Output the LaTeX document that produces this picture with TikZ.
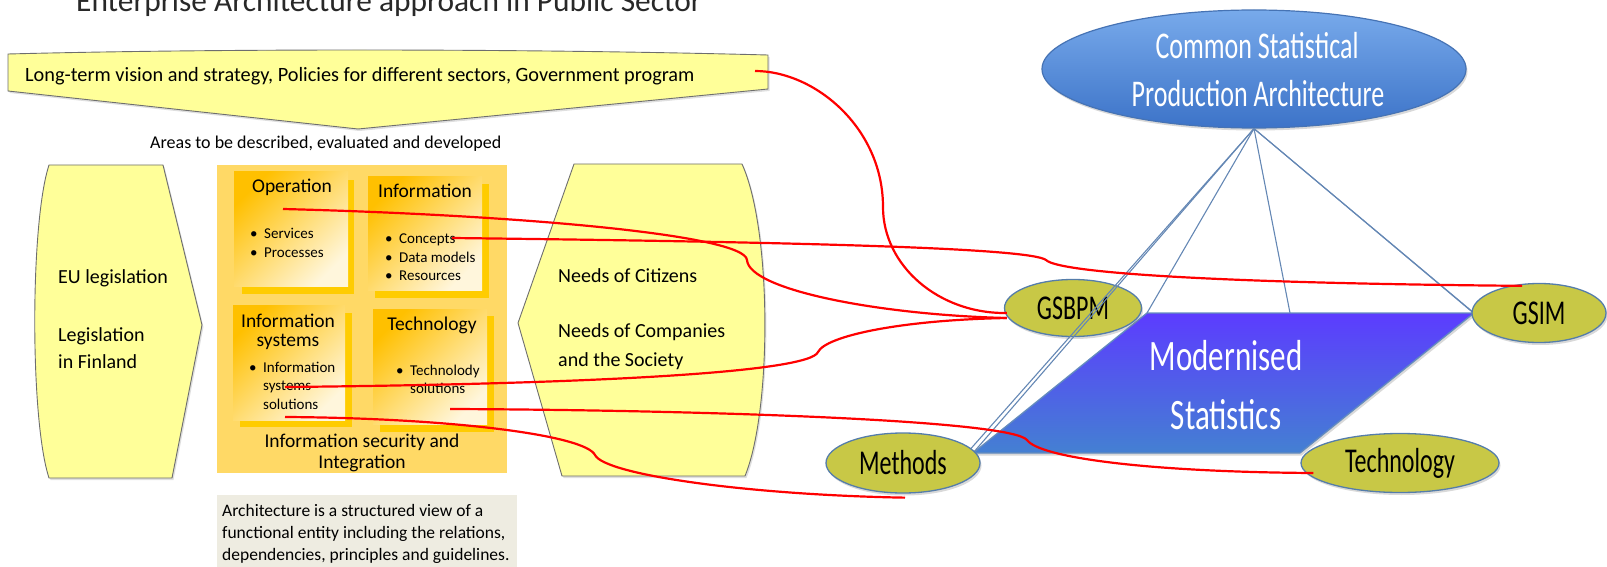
\documentclass[tikz,border=0pt]{standalone}
\usepackage{fontspec}
\setmainfont{Carlito}
\usetikzlibrary{shapes.geometric,shadows}
\definecolor{yfill}{RGB}{255,255,153}
\definecolor{ygray}{RGB}{110,110,110}
\definecolor{midfill}{RGB}{255,217,102}
\definecolor{goldsh}{RGB}{255,204,0}
\definecolor{subtop}{RGB}{255,192,0}
\definecolor{subbot}{RGB}{255,246,220}
\definecolor{notefill}{RGB}{238,236,225}
\definecolor{olivefill}{RGB}{200,200,70}
\definecolor{olivedraw}{RGB}{85,125,170}
\definecolor{paratop}{RGB}{92,60,255}
\definecolor{parabot}{RGB}{68,128,210}
\definecolor{paradraw}{RGB}{100,140,190}
\definecolor{cspatop}{RGB}{120,170,235}
\definecolor{cspabot}{RGB}{60,115,200}
\definecolor{cspadraw}{RGB}{70,115,180}
\definecolor{bluel}{RGB}{100,135,180}
\definecolor{titlec}{RGB}{40,40,40}
\newcommand\myfs[1]{\fontsize{#1}{#1}\selectfont}
\newcommand\bl{\makebox[14pt][l]{\textbullet}}
\newcommand\tall[1]{\scalebox{1}[1.45]{#1}}
\tikzset{
  yshape/.style={fill=yfill, draw=ygray, line width=0.9pt,
    drop shadow={opacity=0.25, shadow xshift=1.5pt, shadow yshift=-2pt}},
  subbox/.style={top color=subtop, bottom color=subbot, shading angle=45},
  txt/.style={anchor=base west, inner sep=0pt},
  ctxt/.style={anchor=base, inner sep=0pt},
  olivenode/.style={ellipse, fill=olivefill, draw=olivedraw, line width=1.3pt,
    inner sep=0pt, font=\myfs{24},
    drop shadow={opacity=0.3, shadow xshift=1.5pt, shadow yshift=-2.5pt}},
  redline/.style={draw=red, line width=2.2pt},
  blueline/.style={draw=bluel, line width=1.1pt},
  whitetxt/.style={text=white, inner sep=0pt}
}
\begin{document}
\begin{tikzpicture}[x=1pt,y=-1pt]
\useasboundingbox (0,0) rectangle (1607,567);
\clip (0,0) rectangle (1607,567);
% title
\node[txt, text=titlec, font=\myfs{31.4}] (title) at (76,11.5) {Enterprise Architecture approach in Public Sector};
% banner
\path[yshape] (8,54) .. controls (200,49) and (500,48) .. (768,55) -- (768,89) -- (358,129) -- (8,91) -- cycle;
\node[txt, font=\myfs{20.3}] (vision) at (25,82) {Long-term vision and strategy, Policies for different sectors, Government program};
\node[txt, font=\myfs{18}] (areas) at (150,149) {Areas to be described, evaluated and developed};
% EU box
\path[yshape] (49,165) -- (163,165) -- (202,325) -- (172,478) -- (49,478) .. controls (30,420) and (30,223) .. (49,165) -- cycle;
\node[txt, font=\myfs{20}] (eu1) at (58,283) {EU legislation};
\node[txt, font=\myfs{20}] (eu2) at (58,341) {Legislation};
\node[txt, font=\myfs{20}] (eu3) at (58,368) {in Finland};
% middle area
\fill[midfill] (217,165) rectangle (507,473);
\fill[goldsh] (242,180) rectangle (354,294);
\shade[subbox] (234,172) rectangle (348,286);
\fill[goldsh] (375,184) rectangle (489,298);
\shade[subbox] (368,177) rectangle (482,290);
\fill[goldsh] (240,313) rectangle (352,427);
\shade[subbox] (233,305) rectangle (345,420);
\fill[goldsh] (380,316) rectangle (494,432);
\shade[subbox] (373,309) rectangle (487,424);
\node[ctxt, font=\myfs{19.5}] (op) at (292,193) {Operation};
\node[ctxt, font=\myfs{19.5}] (info) at (425,197) {Information};
\node[ctxt, font=\myfs{19.5}] (is1) at (288,327) {Information};
\node[ctxt, font=\myfs{19.5}] (is2) at (288,346) {systems};
\node[ctxt, font=\myfs{19.5}] (tech) at (432,330) {Technology};
\node[txt, font=\myfs{15}] (b1) at (250,238) {\bl Services};
\node[txt, font=\myfs{15}] (b2) at (250,257) {\bl Processes};
\node[txt, font=\myfs{15}] (b3) at (385,243) {\bl Concepts};
\node[txt, font=\myfs{15}] (b4) at (385,262) {\bl Data models};
\node[txt, font=\myfs{15}] (b5) at (385,280) {\bl Resources};
\node[txt, font=\myfs{15}] (b6) at (249,372) {\bl Information};
\node[txt, font=\myfs{15}] (b7) at (263,390) {systems};
\node[txt, font=\myfs{15}] (b8) at (263,409) {solutions};
\node[txt, font=\myfs{15}] (b9) at (396,375) {\bl Technolody};
\node[txt, font=\myfs{15}] (b10) at (410,393) {solutions};
\node[ctxt, font=\myfs{19.5}] (sec1) at (362,447) {Information security and};
\node[ctxt, font=\myfs{19.5}] (sec2) at (362,468) {Integration};
% Needs box
\path[yshape] (574,164) -- (742,164) .. controls (772,230) and (772,410) .. (745,476) -- (562,476) -- (518,323) -- cycle;
\node[txt, font=\myfs{20}] (n1) at (558,282) {Needs of Citizens};
\node[txt, font=\myfs{20}] (n2) at (558,337) {Needs of Companies};
\node[txt, font=\myfs{20}] (n3) at (558,366) {and the Society};
% note
\fill[notefill] (217,495) rectangle (517,580);
\node[txt, font=\myfs{17.5}] (note1) at (222,516) {Architecture is a structured view of a};
\node[txt, font=\myfs{17.5}] (note2) at (222,538) {functional entity including the relations,};
\node[txt, font=\myfs{17.5}] (note3) at (222,560) {dependencies, principles and guidelines.};
% right part
\coordinate (pTL) at (1147,313);
\coordinate (pTR) at (1474,313);
\coordinate (pBR) at (1300,453);
\coordinate (pBL) at (973,453);
\path[top color=paratop, bottom color=parabot, draw=paradraw, line width=1.3pt,
  drop shadow={opacity=0.3, shadow xshift=1.5pt, shadow yshift=-2.5pt}]
  (pBL) -- (pTL) -- (pTR) -- (pBR) -- cycle;
\node[whitetxt, font=\myfs{31}] (mod1) at (1226,356) {\scalebox{1}[1.4]{Modernised}};
\node[whitetxt, font=\myfs{31}] (mod2) at (1226,415) {\scalebox{1}[1.4]{Statistics}};
\node[ellipse, top color=cspatop, bottom color=cspabot, draw=cspadraw, line width=1.2pt,
  minimum width=424pt, minimum height=118pt, inner sep=0pt,
  drop shadow={opacity=0.3, shadow xshift=1.5pt, shadow yshift=-2.5pt}] (cspa) at (1254,69) {};
\node[whitetxt, font=\myfs{26}] (cspa1) at (1257,46) {\tall{Common Statistical}};
\node[whitetxt, font=\myfs{26}] (cspa2) at (1258,94) {\tall{Production Architecture}};
\node[olivenode, minimum width=137pt, minimum height=57pt] (gsbpm) at (1073,308) {\tall{GSBPM}};
\draw[blueline] (cspa.south) -- (pBL);
\draw[blueline] (cspa.south) -- ([xshift=-6pt]pBL);
\draw[blueline] (cspa.south) -- (pTL);
\draw[blueline] (cspa.south) -- ([xshift=143pt]pTL);
\draw[blueline] (cspa.south) -- (pTR);
\draw[blueline] (cspa.south) -- ([shift={(3,3)}]pTR);
\node[olivenode, minimum width=154pt, minimum height=60pt] (methods) at (903,463) {\tall{Methods}};
\node[olivenode, minimum width=134pt, minimum height=59pt] (gsim) at (1539,313) {\tall{GSIM}};
\node[olivenode, minimum width=198pt, minimum height=59pt] (techn) at (1400,463) {\tall{Technology}};
% red connectors
\coordinate (r1s) at (755,71);
\coordinate (r2s) at (283,209);
\coordinate (r3s) at (452,238);
\coordinate (r4s) at (285,387);
\coordinate (r5s) at (450,409);
\coordinate (r6s) at (285,417);
\draw[redline] (r1s) .. controls (815,71) and (883,128) .. (883,207) .. controls (883,266) and (939,314) .. ([shift={(3,5)}]gsbpm.west);
\draw[redline] (r2s) .. controls (520,215) and (745,235) .. (747,260) .. controls (749,290) and (880,315) .. ([shift={(3,10)}]gsbpm.west);
\draw[redline] (r3s) .. controls (800,242) and (1030,248) .. (1046,260) .. controls (1058,272) and (1200,283) .. ([shift={(-17,3)}]gsim.north);
\draw[redline] (r4s) .. controls (600,384) and (810,372) .. (818,352) .. controls (826,336) and (900,320) .. ([shift={(3,10)}]gsbpm.west);
\draw[redline] (r5s) .. controls (700,410) and (1010,420) .. (1027,440) .. controls (1040,458) and (1150,472) .. ([shift={(13,10)}]techn.west);
\draw[redline] (r6s) .. controls (450,418) and (585,435) .. (595,455) .. controls (605,475) and (750,495) .. ([shift={(2,4)}]methods.south);
\end{tikzpicture}
\end{document}
